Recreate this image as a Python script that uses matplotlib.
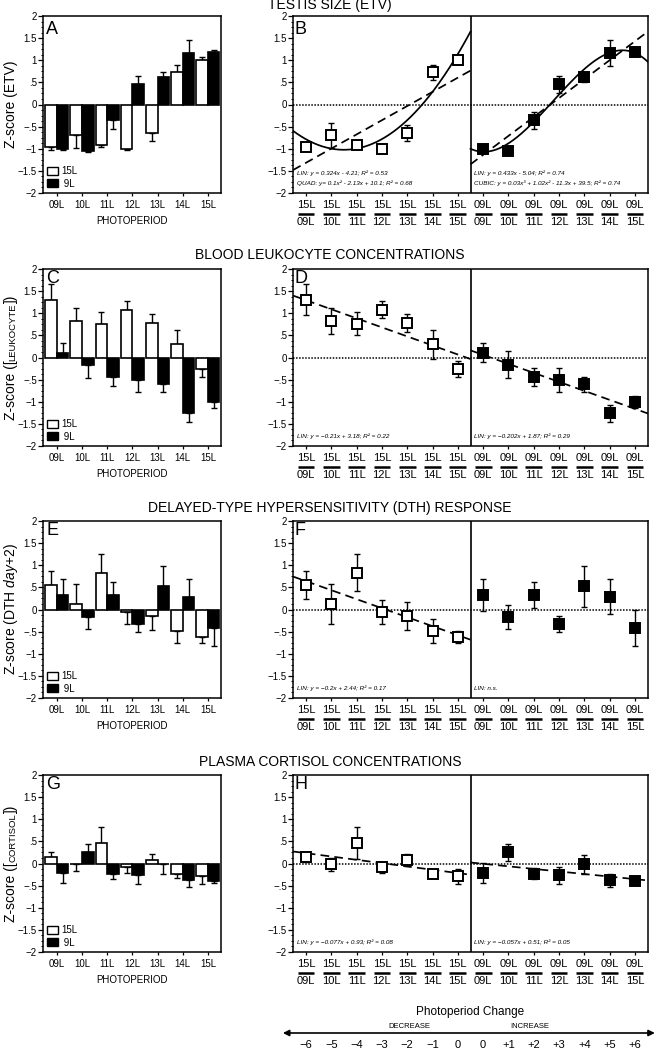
import numpy as np
import matplotlib
matplotlib.use('Agg')
import matplotlib.pyplot as plt
from matplotlib.patches import Patch
from matplotlib.ticker import MultipleLocator
import matplotlib.transforms as mtransforms

plt.rcParams['font.family'] = ['Liberation Sans', 'DejaVu Sans']
plt.rcParams['mathtext.fontset'] = 'custom'
plt.rcParams['mathtext.rm'] = 'Liberation Sans'
plt.rcParams['mathtext.it'] = 'Liberation Sans:italic'
plt.rcParams['axes.linewidth'] = 1.1

# ---------------- data ----------------
photoperiods = ["09L", "10L", "11L", "12L", "13L", "14L", "15L"]
hours = np.array([9, 10, 11, 12, 13, 14, 15])
group_labels = ["15L", " 9L"]
frac_top_left = ["15L"] * 7
frac_top_right = ["09L"] * 7
yticks = [-2, -1.5, -1, -0.5, 0, 0.5, 1, 1.5, 2]
ytick_labels = ["\u22122", "\u22121.5", "\u22121", "\u2212.5", "0", ".5", "1", "1.5", "2"]
change_labels = ["\u22126", "\u22125", "\u22124", "\u22123", "\u22122", "\u22121", "0",
                 "0", "+1", "+2", "+3", "+4", "+5", "+6"]

titles = ["TESTIS SIZE (ETV)", "BLOOD LEUKOCYTE CONCENTRATIONS",
          "DELAYED-TYPE HYPERSENSITIVITY (DTH) RESPONSE", "PLASMA CORTISOL CONCENTRATIONS"]
bar_letters = ["A", "C", "E", "G"]
dot_letters = ["B", "D", "F", "H"]

# Testis size (ETV)
etv_15 = [-0.95, -0.70, -0.92, -1.00, -0.65, 0.73, 1.00]
etv_15_sem = [0.07, 0.28, 0.03, 0.03, 0.18, 0.17, 0.08]
etv_9 = [-1.00, -1.05, -0.36, 0.46, 0.62, 1.17, 1.19]
etv_9_sem = [0.03, 0.03, 0.20, 0.19, 0.11, 0.29, 0.05]

# Blood leukocytes
leuk_15 = [1.30, 0.82, 0.76, 1.08, 0.78, 0.30, -0.27]
leuk_15_sem = [0.35, 0.30, 0.26, 0.19, 0.20, 0.33, 0.18]
leuk_9 = [0.11, -0.16, -0.44, -0.50, -0.61, -1.26, -1.00]
leuk_9_sem = [0.21, 0.31, 0.20, 0.27, 0.16, 0.19, 0.14]

# DTH response
dth_15 = [0.55, 0.13, 0.83, -0.06, -0.14, -0.48, -0.62]
dth_15_sem = [0.32, 0.45, 0.42, 0.27, 0.32, 0.27, 0.13]
dth_9 = [0.33, -0.17, 0.33, -0.32, 0.52, 0.29, -0.42]
dth_9_sem = [0.36, 0.27, 0.29, 0.18, 0.46, 0.40, 0.41]

# Plasma cortisol
cort_15 = [0.14, -0.02, 0.47, -0.09, 0.08, -0.23, -0.29]
cort_15_sem = [0.11, 0.14, 0.36, 0.13, 0.14, 0.09, 0.17]
cort_9 = [-0.21, 0.25, -0.23, -0.27, -0.02, -0.38, -0.40]
cort_9_sem = [0.22, 0.19, 0.12, 0.19, 0.21, 0.14, 0.03]

# regression degrees (left = 15L groups, right = 9L groups)
fits_left = [[1, 2], [1], [1], [1]]
fits_right = [[1, 3], [1], [], [1]]

eq_left = [["LIN: y = 0.324x - 4.21; R\u00b2 = 0.53", "QUAD: y= 0.1x\u00b2 - 2.13x + 10.1; R\u00b2 = 0.68"],
           ["LIN: y = \u22120.21x + 3.18; R\u00b2 = 0.22"],
           ["LIN: y = \u22120.2x + 2.44; R\u00b2 = 0.17"],
           ["LIN: y = \u22120.077x + 0.93; R\u00b2 = 0.08"]]
eq_right = [["LIN: y = 0.433x - 5.04; R\u00b2 = 0.74",
             "CUBIC: y = 0.03x\u00b3 + 1.02x\u00b2 - 11.3x + 39.5; R\u00b2 = 0.74"],
            ["LIN: y = \u22120.202x + 1.87; R\u00b2 = 0.29"],
            ["LIN: n.s."],
            ["LIN: y = \u22120.057x + 0.51; R\u00b2 = 0.05"]]

ylabels = [[("Z-score (ETV)", 10, 'normal')],
           [("Z-score ([", 10, 'normal'), ("LEUKOCYTE", 6.8, 'normal'), ("])", 10, 'normal')],
           [(r"Z-score (DTH $\mathit{day}$+2)", 10, 'normal')],
           [("Z-score ([", 10, 'normal'), ("CORTISOL", 6.8, 'normal'), ("])", 10, 'normal')]]

rows = [
    (etv_15, etv_15_sem, etv_9, etv_9_sem),
    (leuk_15, leuk_15_sem, leuk_9, leuk_9_sem),
    (dth_15, dth_15_sem, dth_9, dth_9_sem),
    (cort_15, cort_15_sem, cort_9, cort_9_sem),
]

# ---------------- layout ----------------
W, H = 656, 1050
fig = plt.figure(figsize=(W / 100, H / 100), dpi=100)
fig.patch.set_facecolor('white')
renderer = fig.canvas.get_renderer()

row_tops = [16, 269, 521, 775]
AH = 177
title_y = [5.5, 255, 508, 762]
letter_top = [8.5, 4.5, 4.5, 4.5]
A_L, A_R = 43, 221
B_L, B_R = 293, 648


def px_axes(l, t, r, b):
    return fig.add_axes([l / W, 1 - b / H, (r - l) / W, (b - t) / H])


def setup_y(ax):
    ax.set_ylim(-2, 2)
    ax.set_yticks(yticks)
    ax.set_yticklabels(ytick_labels)
    ax.yaxis.set_minor_locator(MultipleLocator(0.125))
    ax.tick_params(axis='y', which='major', direction='out', length=3.5, width=0.9,
                   labelsize=7, pad=1)
    ax.tick_params(axis='y', which='minor', direction='out', length=1.8, width=0.7)
    ax.tick_params(axis='x', which='major', direction='out', length=2.5, width=0.9)


def draw_ylabel(ax, pieces, x_px=15):
    widths = []
    for txt, size, style in pieces:
        t = fig.text(0, 0, txt, fontsize=size, style=style)
        widths.append(t.get_window_extent(renderer).width)
        t.remove()
    total = sum(widths)
    pos = ax.get_position()
    yc = (pos.y0 + pos.y1) / 2 * H
    y = yc - total / 2
    for (txt, size, style), w in zip(pieces, widths):
        fig.text(x_px / W, y / H, txt, fontsize=size, style=style, rotation=90,
                 rotation_mode='anchor', ha='left', va='baseline')
        y += w


x = np.arange(len(photoperiods))
bw = 0.46

for r, (v15, s15, v9, s9) in enumerate(rows):
    top = row_tops[r]
    bot = top + AH
    v15 = np.array(v15); s15 = np.array(s15)
    v9 = np.array(v9); s9 = np.array(s9)

    # ---------- bar panel ----------
    ax = px_axes(A_L, top, A_R, bot)
    for xs, v, s, fc in [(x - bw / 2, v15, s15, 'white'), (x + bw / 2, v9, s9, 'black')]:
        lo = np.where(v < 0, s, 0)
        hi = np.where(v >= 0, s, 0)
        ax.errorbar(xs, v, yerr=[lo, hi], fmt='none', ecolor='k', elinewidth=1.0,
                    capsize=2.0, capthick=1.0, zorder=2)
        ax.bar(xs, v, bw, color=fc, edgecolor='k', linewidth=1.2, zorder=3)
    ax.set_xlim(-0.55, 6.52)
    setup_y(ax)
    ax.set_xticks(x)
    ax.set_xticklabels([])
    trans = mtransforms.blended_transform_factory(ax.transData, ax.transAxes)
    for xi, lab in zip(x, photoperiods):
        ax.text(xi, -12 / AH, lab, transform=trans, ha='center', va='center', fontsize=7)
    ax.text(0.5, -28 / AH, "PHOTOPERIOD", transform=ax.transAxes, ha='center',
            va='center', fontsize=7)
    ax.text(3 / (A_R - A_L), 1 - (letter_top[r] - 3.4) / AH, bar_letters[r],
            transform=ax.transAxes, ha='left', va='top', fontsize=13)
    handles = [Patch(facecolor='white', edgecolor='k', linewidth=1.0),
               Patch(facecolor='black', edgecolor='k', linewidth=1.0)]
    ax.legend(handles, group_labels, loc='lower left', frameon=False, fontsize=7,
              handlelength=1.05, handleheight=0.95, labelspacing=0.25,
              handletextpad=0.4, borderaxespad=0.25, borderpad=0.2)
    draw_ylabel(ax, ylabels[r])

    # ---------- scatter panel ----------
    bx = px_axes(B_L, top, B_R, bot)
    pos_l = hours - 9
    pos_r = hours - 2
    bx.axhline(0, color='k', lw=1.1, ls=(0, (1, 1)), zorder=1)
    bx.axvline(6.5, color='k', lw=1.2, zorder=1)
    for v, posx, degs, h0, h1 in [(v15, pos_l, fits_left[r], 8.49, 15.5),
                                  (v9, pos_r, fits_right[r], 8.5, 15.51)]:
        hh = np.linspace(h0, h1, 300)
        for d in degs:
            coef = np.polyfit(hours, v, d)
            yy = np.polyval(coef, hh)
            ls = (0, (5, 3)) if d == 1 else '-'
            bx.plot(hh - 9 + posx[0], yy, color='k', lw=1.25, ls=ls, zorder=2)
    bx.errorbar(pos_l, v15, yerr=s15, fmt='none', ecolor='k', elinewidth=1.0,
                capsize=2.2, capthick=1.0, zorder=3)
    bx.errorbar(pos_r, v9, yerr=s9, fmt='none', ecolor='k', elinewidth=1.0,
                capsize=2.2, capthick=1.0, zorder=3)
    bx.plot(pos_l, v15, 's', ms=6.6, mfc='white', mec='k', mew=1.4, zorder=5)
    bx.plot(pos_r, v9, 's', ms=6.6, mfc='black', mec='k', mew=1.4, zorder=5)
    bx.set_xlim(-0.51, 13.51)
    setup_y(bx)
    allpos = np.concatenate([pos_l, pos_r])
    bx.set_xticks(allpos)
    bx.set_xticklabels([])
    trans = mtransforms.blended_transform_factory(bx.transData, bx.transAxes)
    tops = frac_top_left + frac_top_right
    bots = photoperiods + photoperiods
    for p, t1, t2 in zip(allpos, tops, bots):
        bx.text(p, -12 / AH, t1, transform=trans, ha='center', va='center', fontsize=8)
        bx.text(p, -28.5 / AH, t2, transform=trans, ha='center', va='center', fontsize=8)
        bx.plot([p - 0.33, p + 0.33], [-20.5 / AH] * 2, transform=trans, color='k',
                lw=1.8, clip_on=False, solid_capstyle='butt')
    bx.text(2 / (B_R - B_L), 1 - (letter_top[r] - 3.4) / AH, dot_letters[r],
            transform=bx.transAxes, ha='left', va='top', fontsize=13)
    for xfrac, eqs in [((297 - B_L) / (B_R - B_L), eq_left[r]),
                       ((474 - B_L) / (B_R - B_L), eq_right[r])]:
        ys = [20 / AH, 9.5 / AH] if len(eqs) == 2 else [9.5 / AH]
        for yv, s in zip(ys, eqs):
            bx.text(xfrac, yv, s, transform=bx.transAxes, ha='left', va='center',
                    fontsize=4.6, style='italic')

    fig.text(330 / W, 1 - title_y[r] / H, titles[r], ha='center', va='center', fontsize=10)

# ---------- photoperiod change axis ----------
cx = fig.add_axes([B_L / W, 0, (B_R - B_L) / W, 50 / H])
cx.set_xlim(-0.51, 13.51)
cx.set_ylim(1050, 1000)
cx.axis('off')
cx.text(6.5, 1012, "Photoperiod Change", ha='center', va='center', fontsize=8.5)
cx.text(4.1, 1027, "DECREASE", ha='center', va='center', fontsize=5.5)
cx.text(8.85, 1027, "INCREASE", ha='center', va='center', fontsize=5.5)
cx.annotate('', xy=(13.78, 1033), xytext=(-0.91, 1033), annotation_clip=False,
            arrowprops=dict(arrowstyle='<|-|>', color='k', lw=1.2,
                            mutation_scale=9, shrinkA=0, shrinkB=0))
for p, lab in zip(range(len(change_labels)), change_labels):
    cx.text(p, 1044.5, lab, ha='center', va='center', fontsize=8)

fig.savefig('out.png', dpi=100, facecolor='white')
